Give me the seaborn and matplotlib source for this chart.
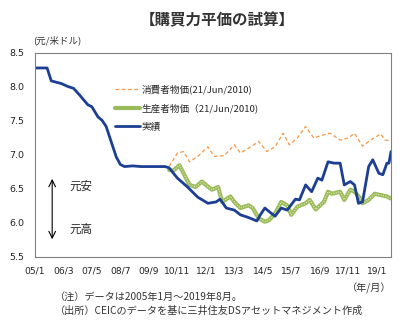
import matplotlib
matplotlib.use("Agg")
import matplotlib.pyplot as plt
from matplotlib.lines import Line2D
import seaborn as sns
import pandas as pd
import numpy as np

# ---- data (month index from 2005-01 = 0, value CNY per USD) ----
actual_m = [0, 5, 6, 8, 13, 16, 19, 22, 26, 28, 31, 33, 35, 38, 40, 42, 44, 48, 52, 56, 60, 64,
            66, 70, 75, 80, 85, 89, 91, 94, 98, 101, 105, 109, 111, 113, 115, 118, 121, 124, 128,
            130, 133, 136, 139, 141, 144, 147, 150, 152, 155, 157, 159, 161, 164, 166, 169, 171,
            173, 174, 175]
actual_v = [8.28, 8.28, 8.28, 8.09, 8.05, 8.01, 7.98, 7.88, 7.74, 7.71, 7.56, 7.51, 7.42, 7.15,
            6.97, 6.86, 6.83, 6.84, 6.83, 6.83, 6.83, 6.83,
            6.81, 6.66, 6.53, 6.38, 6.29, 6.31, 6.35, 6.22, 6.19, 6.12, 6.08, 6.03, 6.13, 6.22,
            6.17, 6.10, 6.22, 6.19, 6.35, 6.34, 6.56, 6.46, 6.66, 6.63, 6.90, 6.88, 6.88, 6.56,
            6.61, 6.56, 6.29, 6.31, 6.83, 6.93, 6.73, 6.71, 6.88, 6.88, 7.05]

cpi_m = [66, 70, 73, 76, 80, 85, 88, 93, 98, 101, 105, 110, 114, 118, 122, 125, 129, 133, 137,
         141, 145, 150, 154, 157, 161, 165, 170, 172, 175]
cpi_v = [6.83, 7.03, 7.05, 6.90, 6.98, 7.12, 6.98, 6.99, 7.15, 7.03, 7.10, 7.20, 7.05, 7.12,
         7.32, 7.15, 7.25, 7.42, 7.25, 7.29, 7.32, 7.22, 7.25, 7.32, 7.13, 7.22, 7.31, 7.22, 7.21]

ppi_m = [66, 68, 71, 73, 76, 79, 82, 84, 87, 90, 92, 96, 98, 101, 105, 107, 110, 113, 115, 118,
         121, 124, 126, 129, 133, 135, 138, 142, 144, 146, 150, 152, 155, 157, 160, 161, 164,
         167, 170, 173, 175]
ppi_v = [6.78, 6.77, 6.85, 6.73, 6.56, 6.53, 6.61, 6.56, 6.49, 6.53, 6.31, 6.39, 6.31, 6.22,
         6.26, 6.22, 6.07, 6.02, 6.04, 6.14, 6.31, 6.26, 6.12, 6.24, 6.29, 6.34, 6.20, 6.31,
         6.46, 6.43, 6.46, 6.34, 6.49, 6.46, 6.36, 6.29, 6.34, 6.43, 6.41, 6.39, 6.36]

tick_labels = ["05/1", "06/3", "07/5", "08/7", "09/9", "10/11", "12/1", "13/3", "14/5",
               "15/7", "16/9", "17/11", "19/1"]
y_ticks = [5.5, 6.0, 6.5, 7.0, 7.5, 8.0, 8.5]

label_cpi = "消費者物価(21/Jun/2010)"
label_ppi = "生産者物価（21/Jun/2010)"
label_act = "実績"

sns.set_theme(style="white")
JP = ["Noto Sans CJK JP", "DejaVu Sans"]
plt.rcParams["font.family"] = JP

def to_date(ms):
    return pd.to_datetime([f"{2005 + m // 12}-{m % 12 + 1:02d}-01" for m in ms])

df_a = pd.DataFrame({"date": to_date(actual_m), "v": actual_v})
df_c = pd.DataFrame({"date": to_date(cpi_m), "v": cpi_v})
df_p = pd.DataFrame({"date": to_date(ppi_m), "v": ppi_v})

fig = plt.figure(figsize=(4.07, 3.28), dpi=100)
ax = fig.add_axes([35 / 407, 1 - 257 / 328, 356 / 407, 204 / 328])

c_blue = "#1C3F94"
c_org = "#F79646"
c_grn = "#9BBB59"

sns.lineplot(data=df_c, x="date", y="v", ax=ax, color=c_org, lw=0.9,
             dashes=False, linestyle=(0, (3, 2)))
sns.lineplot(data=df_p, x="date", y="v", ax=ax, color=c_grn, lw=3.0)
sns.lineplot(data=df_p, x="date", y="v", ax=ax, color="#E2ECCB", lw=0.8,
             linestyle=(0, (1, 1.2)))
sns.lineplot(data=df_a, x="date", y="v", ax=ax, color=c_blue, lw=2.0)

ax.set_xlim(pd.Timestamp("2005-01-01"), pd.Timestamp("2019-08-01"))
ax.set_ylim(5.5, 8.5)
tick_m = list(range(0, 175, 14))
ax.set_xticks(to_date(tick_m))
ax.set_xticklabels(tick_labels, family="DejaVu Sans", fontsize=6.6)
ax.set_yticks(y_ticks)
ax.set_yticklabels([f"{t:.1f}" for t in y_ticks], family="DejaVu Sans", fontsize=6.8)
ax.tick_params(axis="both", direction="in", length=3, color="#808080", width=0.6,
               pad=6, colors="#222222")
ax.tick_params(axis="y", pad=8)
ax.tick_params(axis="x", pad=7)
for s in ax.spines.values():
    s.set_color("#808080")
    s.set_linewidth(0.8)
ax.set_xlabel("")
ax.set_ylabel("")

handles = [
    Line2D([], [], color=c_org, lw=0.9, linestyle=(0, (3, 2))),
    Line2D([], [], color=c_grn, lw=3.0),
    Line2D([], [], color=c_blue, lw=2.0),
]
leg = ax.legend(handles, [label_cpi, label_ppi, label_act], loc="upper left",
                bbox_to_anchor=((110 - 35) / 356, (257 - 80) / 204), frameon=False,
                fontsize=6.9, handlelength=2.6, handletextpad=0.2, labelspacing=0.95,
                borderpad=0)

# arrow and labels
ax.annotate("", xy=(pd.Timestamp("2005-09-15"), 5.72),
            xytext=(pd.Timestamp("2005-09-15"), 6.69),
            arrowprops=dict(arrowstyle="<->", color="black", lw=0.8))
ax.text(pd.Timestamp("2006-06-01"), 6.54, "元安", fontsize=8.3, va="center", ha="left")
ax.text(pd.Timestamp("2006-06-01"), 5.91, "元高", fontsize=8.3, va="center", ha="left")

fig.text(217 / 407, 1 - 20 / 328, "【購買力平価の試算】", fontsize=11.2, fontweight="bold",
         ha="center", va="center", color="#333333")
fig.text(33 / 407, 1 - 40 / 328, "(元/米ドル)", fontsize=6.8, ha="left", va="center",
         color="#333333")
fig.text(391 / 407, 1 - 288 / 328, "（年/月）", fontsize=7.3, ha="right", va="center",
         color="#333333")
fig.text(55 / 407, 1 - 297 / 328, "（注）データは2005年1月～2019年8月。", fontsize=7.3,
         ha="left", va="center", color="#333333")
fig.text(55 / 407, 1 - 311 / 328, "（出所）CEICのデータを基に三井住友DSアセットマネジメント作成",
         fontsize=7.3, ha="left", va="center", color="#333333")

fig.savefig("out.png", dpi=100)
